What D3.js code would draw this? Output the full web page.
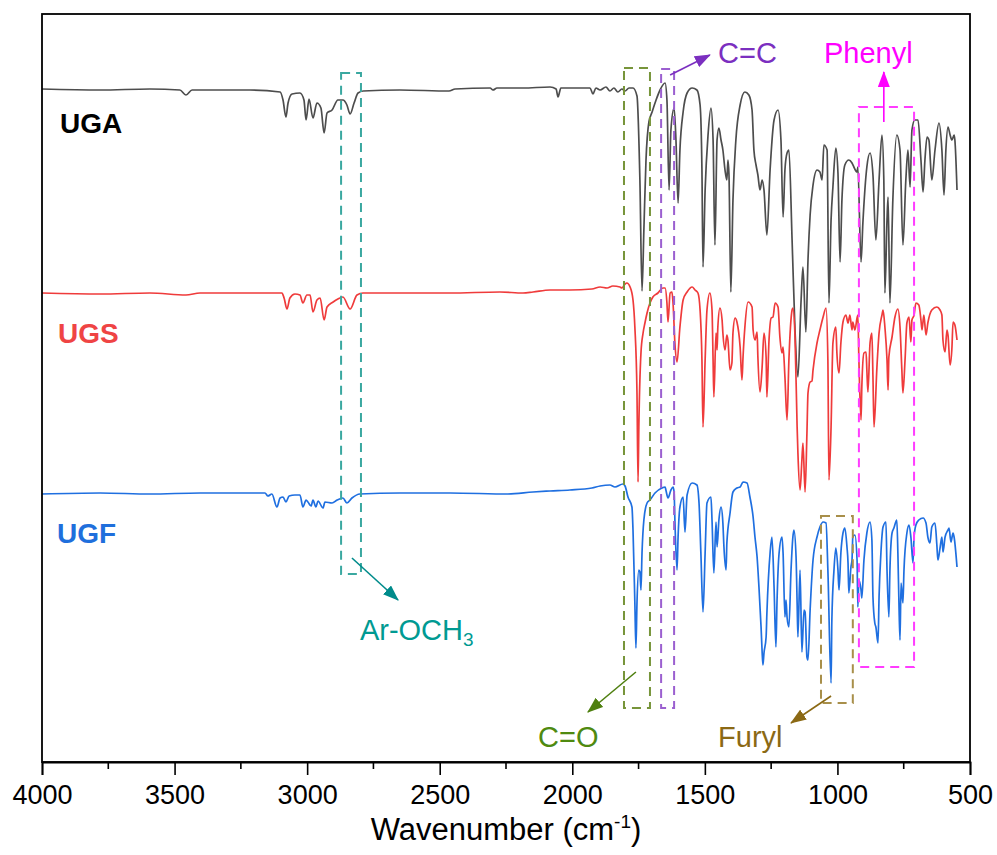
<!DOCTYPE html>
<html>
<head>
<meta charset="utf-8">
<script src="https://cdn.jsdelivr.net/npm/d3@7/dist/d3.min.js"></script>
<style>
    body { margin: 0; background: #fff; }
    svg text { font-family: "Liberation Sans", Arial, sans-serif; }
</style>
</head>
<body>
<div id="chart"></div>
<script>
// FTIR spectra, [wavenumber cm-1, transmittance (a.u., stacked)]
const ugaSpectrum = [
    [4000,673],[3781,672],[3593,673],[3480,672],[3457,667],[3434,672],[3216,672],[3102,670],[3091,662],[3080,645],
    [3072,659],[3057,668],[3027,669],[3012,662],[3004,642],[2993,663],[2978,644],[2963,659],[2948,654],[2936,629],
    [2925,649],[2906,652],[2884,662],[2865,662],[2850,657],[2838,648],[2823,659],[2808,669],[2789,671],[2650,672],
    [2465,671],[2442,673],[2310,674],[2299,672],[2284,674],[2186,674],[2084,675],[2061,673],[2054,665],[2043,674],
    [1971,674],[1933,674],[1922,668],[1911,674],
    [1895,672],[1873,675],[1858,671],[1843,674],[1828,670],[1813,673],[1801,671],[1786,674],[1771,674],[1756,666],
    [1745,582],[1737,471],[1730,532],[1722,602],[1711,640],[1699,650],[1684,662],[1669,672],[1650,679],[1643,662],
    [1635,572],[1628,632],[1616,654],[1609,622],[1601,559],[1594,612],[1582,650],[1567,669],[1548,674],[1530,672],
    [1518,657],[1511,592],[1507,495],[1499,572],[1488,627],[1477,654],[1469,622],[1462,517],[1454,622],[1447,634],
    [1439,622],[1432,612],[1424,592],[1417,582],[1413,602],[1409,587],[1402,470],[1394,562],[1383,622],[1367,657],
    [1349,670],[1334,667],[1322,652],[1315,612],[1307,597],[1300,587],[1292,572],[1284,582],[1277,572],[1266,527],
    [1254,592],[1239,642],[1224,652],[1213,622],[1205,545],[1198,592],[1190,609],[1183,612],[1171,522],[1160,432],
    [1149,385],[1137,462],[1130,495],[1119,430],[1111,502],[1103,547],[1092,577],[1077,592],[1066,590],[1058,582],
    [1051,617],[1039,612],[1032,459],[1024,542],[1017,575],[1006,614],[998,589],[990,500],[983,562],[972,597],
    [957,602],[945,599],[938,595],[926,590],[923,595],[911,500],[904,539],[889,595],[877,609],[866,587],
    [855,522],[843,582],[832,627],[825,582],[821,469],[813,542],[809,565],[802,459],[791,562],[776,627],
    [764,612],[753,517],[742,582],[734,612],[726,575],[719,632],[708,642],[696,642],[685,602],[677,570],
    [670,602],[662,625],[655,622],[644,582],[632,612],[617,639],[606,612],[598,567],[591,612],[583,635],
    [575,627],[568,622],[560,627],[557,622],[549,572]
];

const ugsSpectrum = [
    [4000,469],[3781,468],[3593,469],[3457,467],[3404,469],[3216,469],[3095,469],[3087,464],[3076,453],[3065,464],
    [3046,468],[3027,467],[3016,459],[3001,467],[2989,467],[2978,450],[2963,462],[2951,464],[2936,442],[2925,455],
    [2902,460],[2884,463],[2865,465],[2838,453],[2812,467],[2789,469],[2650,469],[2461,469],[2273,470],[2186,469],
    [2148,470],[2084,472],[2009,472],[1926,473],
    [1895,475],[1869,474],[1847,476],[1820,475],[1813,474],[1801,478],[1794,479],[1782,475],[1771,462],[1764,435],
    [1756,369],[1752,280],[1749,335],[1741,409],[1733,429],[1726,439],[1718,449],[1707,459],[1696,465],[1677,469],
    [1658,474],[1650,474],[1643,459],[1639,440],[1631,469],[1624,470],[1620,459],[1613,419],[1605,400],[1594,435],
    [1582,462],[1567,470],[1548,475],[1537,472],[1526,469],[1518,452],[1511,402],[1507,335],[1499,402],[1492,452],
    [1481,469],[1473,452],[1469,402],[1466,365],[1458,429],[1454,412],[1451,435],[1443,454],[1435,442],[1432,429],
    [1424,412],[1417,427],[1413,422],[1405,392],[1398,399],[1394,429],[1386,444],[1379,440],[1367,415],[1360,382],
    [1356,405],[1349,435],[1337,460],[1322,455],[1318,432],[1311,422],[1303,430],[1300,405],[1292,370],[1284,395],
    [1277,429],[1269,405],[1266,365],[1258,422],[1250,444],[1243,445],[1235,459],[1224,455],[1217,425],[1209,409],
    [1205,415],[1198,385],[1190,342],[1183,402],[1171,452],[1168,454],[1160,425],[1152,335],[1149,309],[1141,272],
    [1134,302],[1130,319],[1122,270],[1115,329],[1111,369],[1103,380],[1096,381],[1092,392],[1077,419],[1066,432],
    [1054,445],[1043,454],[1036,402],[1032,282],[1024,335],[1017,419],[1006,435],[1002,409],[994,389],[987,419],
    [979,440],[968,447],[960,439],[953,447],[945,432],[942,440],[934,432],[926,444],[923,447],[919,402],
    [911,342],[908,375],[900,409],[892,410],[889,392],[885,370],[877,419],[870,429],[866,385],[862,335],
    [851,395],[843,429],[832,447],[828,452],[821,435],[813,402],[809,372],[806,405],[794,425],[783,445],
    [772,453],[764,435],[757,392],[753,369],[745,402],[738,439],[730,445],[723,420],[719,442],[711,447],
    [704,459],[693,457],[685,442],[681,432],[674,447],[666,427],[659,439],[644,452],[625,455],[613,452],
    [606,447],[602,422],[594,410],[587,432],[583,427],[575,397],[568,415],[564,440],[557,437],[549,422]
];

const ugfSpectrum = [
    [4000,268],[3781,269],[3593,268],[3404,269],[3216,269],[3159,269],[3148,266],[3133,268],[3114,255],[3102,264],
    [3091,265],[3080,260],[3068,266],[3046,267],[3027,267],[3016,255],[3004,262],[2997,260],[2985,256],[2978,262],
    [2967,255],[2959,261],[2940,254],[2933,260],[2906,259],[2887,262],[2865,264],[2850,259],[2831,264],[2801,268],
    [2650,269],[2461,269],[2242,268],[2148,270],[2084,271],[2009,272],[1926,274],
    [1895,276],[1858,277],[1839,275],[1809,278],[1801,276],[1790,265],[1775,255],[1771,232],[1764,159],[1760,114],
    [1756,159],[1749,192],[1745,190],[1741,172],[1737,209],[1730,242],[1718,259],[1707,262],[1688,269],[1662,274],
    [1650,275],[1647,272],[1639,264],[1628,272],[1620,275],[1616,270],[1613,242],[1605,192],[1601,225],[1594,255],
    [1582,265],[1575,230],[1567,267],[1548,279],[1530,277],[1522,259],[1515,209],[1507,150],[1499,209],[1492,259],
    [1477,265],[1473,242],[1466,189],[1458,240],[1454,215],[1447,242],[1439,255],[1432,239],[1428,215],[1420,192],
    [1417,219],[1405,249],[1394,270],[1379,274],[1367,275],[1356,280],[1341,279],[1330,265],[1318,245],[1311,225],
    [1303,205],[1296,175],[1288,135],[1284,110],[1281,97],[1277,109],[1269,125],[1266,149],[1254,209],[1247,225],
    [1239,175],[1232,115],[1228,159],[1220,209],[1209,225],[1205,209],[1198,145],[1194,162],[1190,145],[1183,135],
    [1175,192],[1168,225],[1164,232],[1156,205],[1152,159],[1149,125],[1141,192],[1134,110],[1126,152],[1122,150],
    [1115,105],[1111,102],[1103,152],[1092,202],[1077,225],[1066,235],[1054,240],[1043,239],[1036,192],[1024,79],
    [1021,142],[1013,192],[1006,214],[998,192],[994,172],[987,209],[979,229],[972,234],[964,215],[960,199],
    [957,169],[949,195],[945,202],[942,225],[934,227],[926,202],[923,155],[919,182],[911,172],[908,164],
    [900,202],[889,229],[877,240],[870,222],[866,165],[859,139],[855,135],[847,119],[843,165],[836,209],
    [828,235],[817,240],[813,192],[806,145],[802,192],[794,229],[787,234],[776,242],[772,209],[768,159],
    [764,122],[760,179],[753,159],[749,192],[738,229],[730,237],[723,225],[715,199],[711,225],[704,237],
    [693,242],[677,244],[666,239],[659,225],[651,219],[644,235],[632,239],[625,217],[621,202],[613,214],
    [606,225],[602,210],[594,225],[583,232],[579,234],[572,220],[564,229],[560,225],[549,195]
];

const seriesNames = ["UGA", "UGS", "UGF"];
const seriesColors = ["#4d4d4d", "#ef3b3b", "#1f6fe0"];
const labelColors = ["#000000", "#ef4444", "#1f6fdc"];
const labelPos = [[3932, 629], [3940, 419], [3943, 219]];

const xTickValues = [4000, 3500, 3000, 2500, 2000, 1500, 1000, 500];
const xMinorValues = [3750, 3250, 2750, 2250, 1750, 1250, 750];

// dashed region boxes: wavenumber range and a.u. range
const boxes = [
    { name: "Ar-OCH3", wn: [2872, 2797], v: [689, 188], color: "#3aa8a0" },
    { name: "C=O", wn: [1805, 1707], v: [694, 54], color: "#77953a" },
    { name: "C=C", wn: [1665, 1616], v: [693, 54], color: "#9b5fd0" },
    { name: "Phenyl", wn: [919, 711], v: [655, 95], color: "#ff3cff" },
    { name: "Furyl", wn: [1062, 942], v: [246, 59], color: "#a88f4a" }
];

// arrows [from, to] and labels
const arrows = [
    { from: [2831, 204], to: [2657, 162], color: "#008b8b" },
    { from: [1760, 90], to: [1941, 50], color: "#4f8010" },
    { from: [1631, 687], to: [1481, 707], color: "#7b2fc0" },
    { from: [825, 640], to: [825, 690], color: "#ff00ff" },
    { from: [1024, 66], to: [1175, 39], color: "#8b6914" }
];
const notes = [
    { text: "Ar-OCH", sub: "3", at: [2801, 122], color: "#009a92" },
    { text: "C=O", at: [2129, 15], color: "#4f8a10" },
    { text: "C=C", at: [1450, 699], color: "#7b2fc0" },
    { text: "Phenyl", at: [1051, 699], color: "#ff00ff" },
    { text: "Furyl", at: [1450, 15], color: "#8b6914" }
];

const margin = { top: 14, right: 27, bottom: 93, left: 42 };
const width = 997 - margin.left - margin.right;
const height = 855 - margin.top - margin.bottom;

const svg = d3.select("#chart").append("svg")
    .attr("width", 997)
    .attr("height", 855)
    .append("g")
    .attr("transform", "translate(" + margin.left + "," + margin.top + ")");

const x = d3.scaleLinear().domain([4000, 500]).range([0, width]);
const y = d3.scaleLinear().domain([0, 748]).range([height, 0]);

// arrow markers
const defs = svg.append("defs");
arrows.forEach((a, i) => {
    defs.append("marker")
        .attr("id", "head" + i)
        .attr("viewBox", "0 0 16 12")
        .attr("refX", 15)
        .attr("refY", 6)
        .attr("markerWidth", 16)
        .attr("markerHeight", 12)
        .attr("markerUnits", "userSpaceOnUse")
        .attr("orient", "auto")
        .append("path")
        .attr("d", "M0,0 L16,6 L0,12 Z")
        .attr("fill", a.color);
});

// spectra
const line = d3.line()
    .x(d => x(d[0]))
    .y(d => y(d[1]))
    .curve(d3.curveMonotoneX);

[ugaSpectrum, ugsSpectrum, ugfSpectrum].forEach((s, i) => {
    svg.append("path")
        .datum(s)
        .attr("fill", "none")
        .attr("stroke", seriesColors[i])
        .attr("stroke-width", 1.7)
        .attr("stroke-linejoin", "round")
        .attr("d", line);
});

// boxes
boxes.forEach(b => {
    svg.append("rect")
        .attr("x", x(b.wn[0]))
        .attr("y", y(b.v[0]))
        .attr("width", x(b.wn[1]) - x(b.wn[0]))
        .attr("height", y(b.v[1]) - y(b.v[0]))
        .attr("fill", "none")
        .attr("stroke", b.color)
        .attr("stroke-width", 2)
        .attr("stroke-dasharray", "9,6");
});

// arrows
arrows.forEach((a, i) => {
    svg.append("line")
        .attr("x1", x(a.from[0]))
        .attr("y1", y(a.from[1]))
        .attr("x2", x(a.to[0]))
        .attr("y2", y(a.to[1]))
        .attr("stroke", a.color)
        .attr("stroke-width", 1.6)
        .attr("marker-end", "url(#head" + i + ")");
});

// annotation text
notes.forEach(n => {
    let t = svg.append("text")
        .attr("x", x(n.at[0]))
        .attr("y", y(n.at[1]))
        .attr("fill", n.color)
        .style("font-size", "29px")
        .text(n.text);
    if (n.sub) {
        t.append("tspan")
            .attr("dy", 6)
            .style("font-size", "19px")
            .text(n.sub);
    }
});

// series labels
seriesNames.forEach((name, i) => {
    svg.append("text")
        .attr("x", x(labelPos[i][0]))
        .attr("y", y(labelPos[i][1]))
        .attr("fill", labelColors[i])
        .style("font-size", "28px")
        .style("font-weight", "bold")
        .text(name);
});

// frame
svg.append("rect")
    .attr("width", width)
    .attr("height", height)
    .attr("fill", "none")
    .attr("stroke", "#000")
    .attr("stroke-width", 1.8);

// x axis
const xAxis = svg.append("g")
    .attr("transform", "translate(0," + height + ")")
    .call(d3.axisBottom(x).tickValues(xTickValues).tickSize(13).tickPadding(10).tickFormat(d3.format("d")));
xAxis.select(".domain").attr("stroke-width", 1.8);
xAxis.selectAll(".tick line").attr("stroke-width", 1.6);
xAxis.selectAll("text")
    .style("font-size", "27px")
    .style("font-family", "'Liberation Sans', Arial, sans-serif")
    .attr("fill", "#000");

svg.append("g")
    .attr("transform", "translate(0," + height + ")")
    .selectAll("line")
    .data(xMinorValues)
    .join("line")
    .attr("x1", d => x(d))
    .attr("x2", d => x(d))
    .attr("y1", 0)
    .attr("y2", 7)
    .attr("stroke", "#000")
    .attr("stroke-width", 1.6);

const title = svg.append("text")
    .attr("x", width / 2)
    .attr("y", height + 78)
    .attr("text-anchor", "middle")
    .style("font-size", "31px")
    .attr("fill", "#000")
    .text("Wavenumber (cm");
title.append("tspan")
    .attr("dy", -12)
    .style("font-size", "19px")
    .text("-1");
title.append("tspan")
    .attr("dy", 12)
    .text(")");
</script>
</body>
</html>
